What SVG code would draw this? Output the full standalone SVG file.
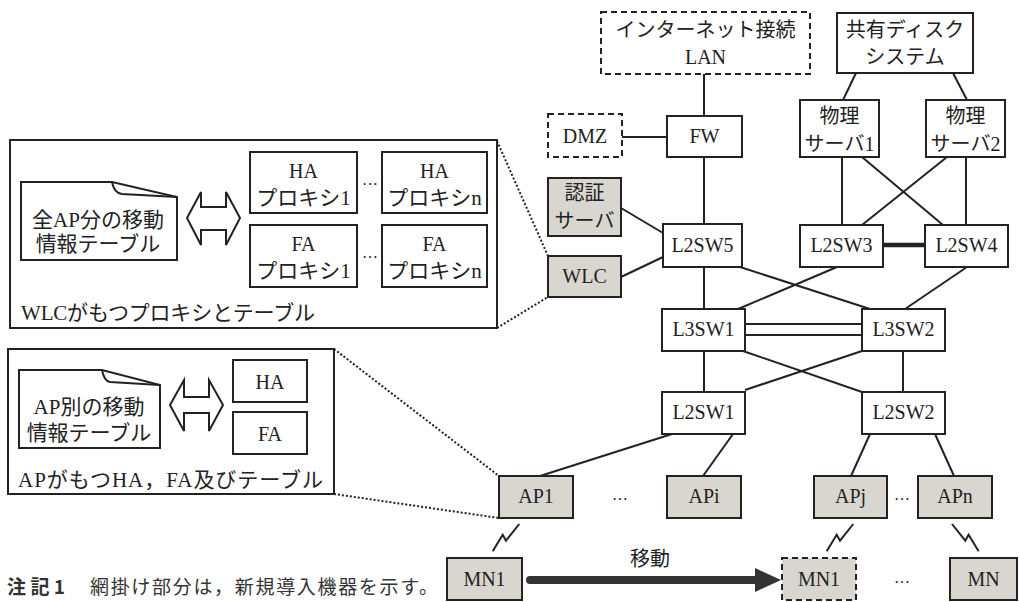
<svg xmlns="http://www.w3.org/2000/svg" width="1019" height="602" viewBox="0 0 1019 602">
<style>
.box{fill:#fff;stroke:#222;stroke-width:2}
.gray{fill:#d9d6d0;stroke:#222;stroke-width:2}
.dash{stroke-dasharray:6 4}
.frame{fill:#fff;stroke:#222;stroke-width:2}
.t{font-family:"Liberation Serif","Noto Sans CJK JP",serif;font-size:20px;fill:#222;text-anchor:middle}
.tb{font-size:21px}
.tl{font-family:"Liberation Serif","Noto Sans CJK JP",serif;font-size:21px;fill:#222}
.dots{font-family:"Liberation Serif",serif;font-size:16px;fill:#222;text-anchor:middle}
.ln{stroke:#222;stroke-width:2;fill:none}
.dot{stroke:#222;stroke-width:2;stroke-dasharray:2 2;fill:none}
.note{font-family:"Noto Sans CJK JP",sans-serif;font-size:19px;fill:#333}
</style>
<rect width="1019" height="602" fill="#fff"/>

<g id="connectors">
<line class="ln" x1="704" y1="74" x2="704" y2="116"/>
<line class="ln" x1="704" y1="157" x2="704" y2="224"/>
<line class="ln" x1="622" y1="137" x2="667" y2="137"/>
<line class="ln" x1="621" y1="208" x2="663" y2="233"/>
<line class="ln" x1="621" y1="277" x2="663" y2="257"/>
<line class="ln" x1="856" y1="73" x2="843" y2="100"/>
<line class="ln" x1="953" y1="73" x2="967" y2="100"/>
<line class="ln" x1="842" y1="157" x2="842" y2="225"/>
<line class="ln" x1="862" y1="157" x2="943" y2="225"/>
<line class="ln" x1="947" y1="157" x2="862" y2="225"/>
<line class="ln" x1="966" y1="157" x2="966" y2="225"/>
<line x1="883" y1="245" x2="925" y2="245" stroke="#222" stroke-width="4.5"/>
<line class="ln" x1="704" y1="267" x2="704" y2="309"/>
<line class="ln" x1="740" y1="267" x2="870" y2="309"/>
<line class="ln" x1="837" y1="267" x2="738" y2="309"/>
<line class="ln" x1="967" y1="267" x2="905" y2="309"/>
<line class="ln" x1="745" y1="324" x2="862" y2="324"/>
<line class="ln" x1="745" y1="335" x2="862" y2="335"/>
<line class="ln" x1="704" y1="351" x2="704" y2="392"/>
<line class="ln" x1="903" y1="351" x2="903" y2="392"/>
<line class="ln" x1="743" y1="351" x2="862" y2="392"/>
<line class="ln" x1="862" y1="351" x2="745" y2="390"/>
<line class="ln" x1="672" y1="434" x2="540" y2="476"/>
<line class="ln" x1="733" y1="434" x2="703" y2="476"/>
<line class="ln" x1="870" y1="434" x2="851" y2="476"/>
<line class="ln" x1="935" y1="434" x2="954" y2="476"/>
<polyline class="ln" points="492.7,551.3 502.7,534.7 506,540.7 519.3,524"/>
<polyline class="ln" points="826.7,551.3 836.7,534.7 840,540.7 853.3,524"/>
<polyline class="ln" points="978.6,551.3 968.6,534.7 965.3,540.7 952,524"/>
<line class="dot" x1="497" y1="141" x2="548" y2="256"/>
<line class="dot" x1="497" y1="328" x2="548" y2="297"/>
<line class="dot" x1="334" y1="349" x2="499" y2="476"/>
<line class="dot" x1="334" y1="494" x2="499" y2="518"/>
<line x1="530" y1="580" x2="758" y2="580" stroke="#333" stroke-width="8" stroke-linecap="round"/>
<polygon points="755,568 781,580 755,592" fill="#333"/>
<text class="t" x="650" y="566">移動</text>
</g>

<g id="wlc-detail">
<rect class="frame" x="10" y="140" width="487" height="188"/>
<path d="M21,182 H112 L177,197 V260 H21 Z" fill="#fff" stroke="#222" stroke-width="2"/>
<path d="M112,182 Q114,193 122,194 L177,197" fill="none" stroke="#222" stroke-width="2"/>
<text class="t tb" x="98" y="227">全AP分の移動</text>
<text class="t tb" x="98" y="251">情報テーブル</text>
<path d="M187,218 L201,192 L201,207 L226,207 L226,192 L240,218 L226,245 L226,230 L201,230 L201,245 Z" fill="#fff" stroke="#222" stroke-width="2"/>
<rect class="box" x="250" y="152" width="107" height="61"/>
<text class="t" x="303.5" y="178">HA</text>
<text class="t tb" x="303.5" y="205">プロキシ1</text>
<rect class="box" x="250" y="225" width="107" height="62"/>
<text class="t" x="303.5" y="251">FA</text>
<text class="t tb" x="303.5" y="278">プロキシ1</text>
<rect class="box" x="382" y="152" width="105" height="61"/>
<text class="t" x="434.5" y="178">HA</text>
<text class="t tb" x="434.5" y="205">プロキシn</text>
<rect class="box" x="382" y="225" width="105" height="62"/>
<text class="t" x="434.5" y="251">FA</text>
<text class="t tb" x="434.5" y="278">プロキシn</text>
<text class="dots" x="370" y="185">…</text>
<text class="dots" x="370" y="258">…</text>
<text class="tl" x="21" y="320" textLength="294" lengthAdjust="spacing">WLCがもつプロキシとテーブル</text>
</g>

<g id="ap-detail">
<rect class="frame" x="8" y="349" width="326" height="145"/>
<path d="M19,370 H102 L160,385 V448 H19 Z" fill="#fff" stroke="#222" stroke-width="2"/>
<path d="M102,370 Q104,381 110,382 L160,385" fill="none" stroke="#222" stroke-width="2"/>
<text class="t tb" x="89" y="414">AP別の移動</text>
<text class="t tb" x="89" y="440">情報テーブル</text>
<path d="M170,405 L184,380 L184,397 L209,397 L209,380 L223,405 L209,431 L209,413 L184,413 L184,431 Z" fill="#fff" stroke="#222" stroke-width="2"/>
<rect class="box" x="233" y="360" width="74" height="42"/>
<text class="t" x="270" y="389">HA</text>
<rect class="box" x="233" y="412" width="74" height="42"/>
<text class="t" x="270" y="441">FA</text>
<text class="tl" x="18" y="487" textLength="305" lengthAdjust="spacing">APがもつHA，FA及びテーブル</text>
</g>

<g id="inet"><rect class="box dash" x="601" y="12" width="209" height="62"/>
<text class="t" x="705.5" y="37">インターネット接続</text><text class="t" x="705.5" y="64">LAN</text></g>
<g id="disk"><rect class="box" x="837" y="13" width="136" height="60"/>
<text class="t" x="905" y="37">共有ディスク</text><text class="t" x="905" y="64">システム</text></g>
<g id="ps1"><rect class="box" x="800" y="100" width="79" height="57"/>
<text class="t" x="839.5" y="123">物理</text><text class="t" x="839.5" y="151">サーバ1</text></g>
<g id="ps2"><rect class="box" x="926" y="100" width="79" height="57"/>
<text class="t" x="965.5" y="123">物理</text><text class="t" x="965.5" y="151">サーバ2</text></g>
<g id="dmz"><rect class="box dash" x="548" y="114" width="74" height="43"/>
<text class="t" x="585" y="143">DMZ</text></g>
<g id="fw"><rect class="box" x="667" y="116" width="75" height="41"/>
<text class="t" x="704.5" y="143">FW</text></g>
<g id="auth"><rect class="gray" x="548" y="178" width="73" height="58"/>
<text class="t" x="584.5" y="200">認証</text><text class="t" x="584.5" y="228">サーバ</text></g>
<g id="wlc"><rect class="gray" x="548" y="256" width="73" height="41"/>
<text class="t" x="584.5" y="283">WLC</text></g>
<g id="l2sw5"><rect class="box" x="663" y="224" width="79" height="43"/>
<text class="t" x="702.5" y="252">L2SW5</text></g>
<g id="l2sw3"><rect class="box" x="800" y="225" width="83" height="42"/>
<text class="t" x="841.5" y="252">L2SW3</text></g>
<g id="l2sw4"><rect class="box" x="925" y="225" width="83" height="42"/>
<text class="t" x="966.5" y="252">L2SW4</text></g>
<g id="l3sw1"><rect class="box" x="662" y="309" width="83" height="42"/>
<text class="t" x="703.5" y="336">L3SW1</text></g>
<g id="l3sw2"><rect class="box" x="862" y="309" width="83" height="42"/>
<text class="t" x="903.5" y="336">L3SW2</text></g>
<g id="l2sw1"><rect class="box" x="662" y="392" width="83" height="42"/>
<text class="t" x="703.5" y="419">L2SW1</text></g>
<g id="l2sw2"><rect class="box" x="862" y="392" width="83" height="42"/>
<text class="t" x="903.5" y="419">L2SW2</text></g>
<g id="ap1"><rect class="gray" x="499" y="476" width="74" height="42"/>
<text class="t" x="536" y="503">AP1</text></g>
<g id="api"><rect class="gray" x="667" y="476" width="74" height="42"/>
<text class="t" x="704" y="503">APi</text></g>
<g id="apj"><rect class="gray" x="814" y="476" width="73" height="42"/>
<text class="t" x="850.5" y="503">APj</text></g>
<g id="apn"><rect class="gray" x="918" y="476" width="74" height="42"/>
<text class="t" x="955" y="503">APn</text></g>
<g id="mn1"><rect class="gray" x="447" y="558" width="75" height="42"/>
<text class="t" x="484.5" y="586">MN1</text></g>
<g id="mn1-moved"><rect class="gray dash" x="782" y="558" width="74" height="42"/>
<text class="t" x="819" y="586">MN1</text></g>
<g id="mn"><rect class="gray" x="950" y="558" width="67" height="42"/>
<text class="t" x="983.5" y="586">MN</text></g>
<g id="ellipses">
<text class="dots" x="620" y="500">…</text>
<text class="dots" x="902" y="500">…</text>
<text class="dots" x="902" y="583">…</text>
</g>
<g id="note">
<text class="note" x="7" y="594" font-weight="bold" textLength="58" lengthAdjust="spacing">注記1</text>
<text class="note" x="90" y="594" textLength="348" lengthAdjust="spacing">網掛け部分は，新規導入機器を示す。</text>
</g>
</svg>
